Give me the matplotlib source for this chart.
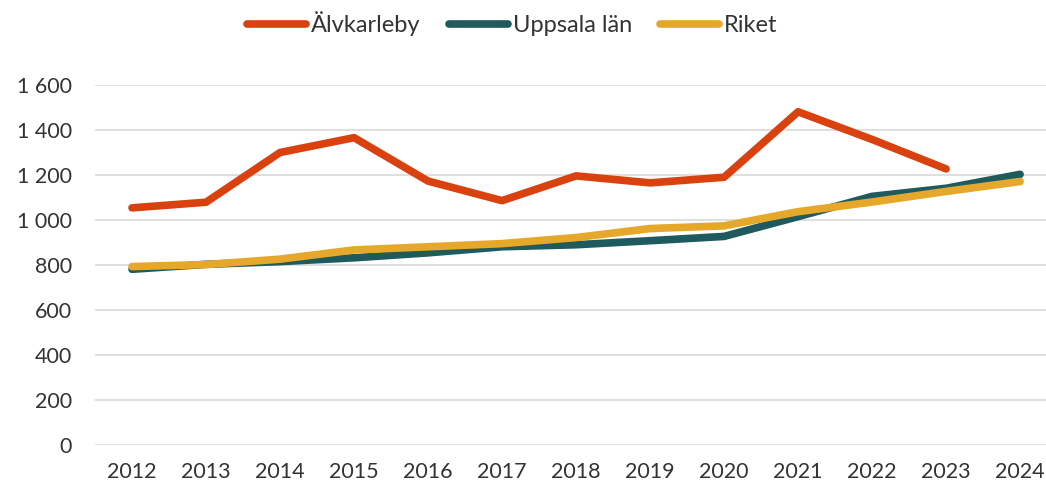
import numpy as np
import matplotlib.pyplot as plt

plt.rcParams['font.family'] = ['Lato', 'DejaVu Sans']

years = ['2012', '2013', '2014', '2015', '2016', '2017', '2018',
         '2019', '2020', '2021', '2022', '2023', '2024']
alvkarleby = [1054, 1079, 1300, 1366, 1173, 1086, 1196, 1165, 1190, 1481, 1358, 1227, np.nan]
uppsala = [781, 803, 815, 832, 854, 881, 890, 908, 927, 1015, 1105, 1141, 1203]
riket = [793, 802, 826, 867, 881, 895, 922, 962, 974, 1037, 1080, 1127, 1171]

series = [('Älvkarleby', alvkarleby, '#D9410F'),
          ('Uppsala län', uppsala, '#1F5A5E'),
          ('Riket', riket, '#E5A82A')]

fig = plt.figure(figsize=(10.46, 4.86), dpi=100)
ax = fig.add_axes([95/1046, 41/486, 951/1046, 360/486])

x = np.arange(len(years))
for name, vals, col in series:
    ax.plot(x, vals, color=col, lw=5.5, solid_capstyle='round', label=name)

ax.set_xlim(-0.5, 12.35)
ax.set_ylim(0, 1600)
ax.set_yticks(range(0, 1601, 200))
ax.set_yticklabels([f'{v:,}'.replace(',', ' ') for v in range(0, 1601, 200)])
ax.set_xticks(x)
ax.set_xticklabels(years)
ax.grid(axis='y', color='#D9D9D9', lw=1.2)
ax.set_axisbelow(True)
for s in ax.spines.values():
    s.set_visible(False)
ax.tick_params(length=0, labelsize=15.5, colors='#333333')
ax.tick_params(axis='x', pad=12)
ax.tick_params(axis='y', pad=16.5)

fig.legend(loc='upper center', bbox_to_anchor=(0.49, 1.02), ncol=3, frameon=False,
           fontsize=17, handlelength=2.5, columnspacing=1.2, handletextpad=0.2,
           labelcolor='#333333')

fig.savefig('out.png', dpi=100)
